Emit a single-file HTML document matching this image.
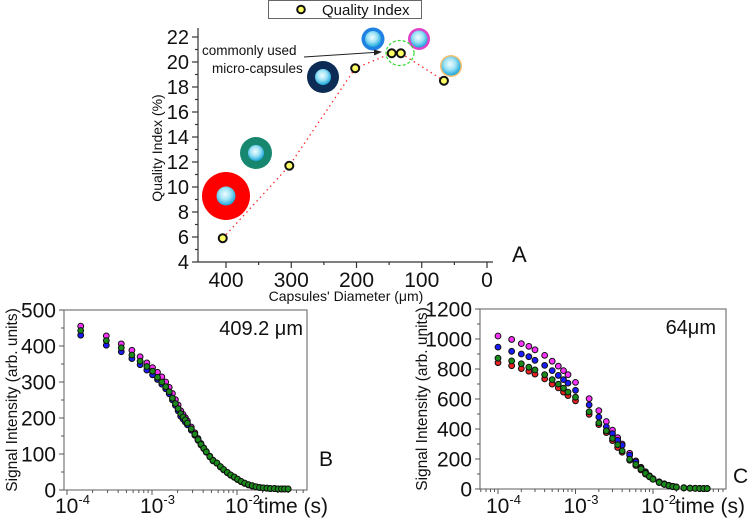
<!DOCTYPE html>
<html><head><meta charset="utf-8"><style>
html,body{margin:0;padding:0;background:#fff;}
svg{display:block;font-family:"Liberation Sans",Arial,sans-serif;}
</style></head><body>
<svg id="fig" width="749" height="523" viewBox="0 0 749 523" xmlns="http://www.w3.org/2000/svg">
<defs>
<radialGradient id="core" cx="45%" cy="40%" r="60%">
<stop offset="0" stop-color="#f2fdff"/><stop offset="0.5" stop-color="#9fe3f5"/><stop offset="1" stop-color="#1aa6dc"/>
</radialGradient>
<marker id="arrowhead" markerWidth="8" markerHeight="6" refX="7" refY="3" orient="auto"><path d="M0,0 L8,3 L0,6 z" fill="#222"/></marker>
</defs>
<g id="panelA"></g>
<g id="panelB"></g>
<g id="panelC"></g>
</svg>
<script>
// ---------- Panel A data ----------
const diamA = [405, 303, 202, 146, 132, 66];
const qualityA = [5.9, 11.7, 19.5, 20.7, 20.7, 18.5];
const yTicksA = [4,6,8,10,12,14,16,18,20,22];
const xTicksA = [400,300,200,100,0];

// ---------- Panel B data (409.2 um) ----------
const timeB = [1.45e-4,2.9e-4,4.35e-4,5.8e-4,7.25e-4,8.7e-4,1.015e-3,1.16e-3,1.305e-3,1.45e-3,1.595e-3,1.74e-3,1.885e-3,2.03e-3,2.175e-3,2.32e-3,2.465e-3,2.61e-3,2.9e-3,3.19e-3,3.48e-3,3.77e-3,4.06e-3,4.35e-3,4.785e-3,5.22e-3,5.8e-3,6.38e-3,6.96e-3,7.685e-3,8.41e-3,9.28e-3,1.015e-2,1.1165e-2,1.2325e-2,1.363e-2,1.508e-2,1.6675e-2,1.8415e-2,2.03e-2,2.2475e-2,2.465e-2,2.755e-2,3.045e-2,3.335e-2,3.625e-2,3.9875e-2];
const greenB = [443,415,395,375,358,343,330,313,300,287,273,255,240,226,212,203,195,186,170,155,140,127,116,106,93,82,75,65,57,49,42,36,30,24,19,15,12,9,7,6,5,4,4,3,3,3,3];
const magentaB = [455,428,406,388,370,353,340,327,314,300,285,268,251,236,220,210,201,192,175,159,143,129,117,107,94,83,75,65,57,49,42,36,30,24,19,15,12,9,7,6,5,4,4,3,3,3,3];
const blueB = [430,402,384,365,348,333,320,307,294,281,267,250,235,220,205,197,189,181,166,152,138,125,115,105,92,81,74,64,56,48,41,35,29,23,18,14,11,9,7,6,5,4,4,3,3,3,3];
const yTicksB = [0,100,200,300,400,500];

// ---------- Panel C data (64 um) ----------
const timeC = [1e-4,1.5e-4,2e-4,2.5e-4,3e-4,4e-4,5e-4,6e-4,7e-4,8e-4,1e-3,1.5e-3,2e-3,2.5e-3,3e-3,3.5e-3,4e-3,5e-3,6e-3,7e-3,8e-3,9e-3,1e-2,1.2e-2,1.4e-2,1.6e-2,1.8e-2,2e-2,2.5e-2,3e-2,3.5e-2,4e-2,4.5e-2,5e-2];
const magentaC = [1020,997,969,951,928,891,852,819,789,762,711,602,522,450,392,342,300,238,187,145,115,88,69,48,35,25,18,14,9,6,5,4,3,3];
const blueC = [946,918,900,882,858,824,789,757,729,706,658,561,480,415,369,325,291,226,180,140,110,84,66,46,33,24,17,13,8,6,5,4,3,3];
const redC = [842,822,803,785,766,734,699,674,646,623,588,498,429,376,323,277,245,192,157,127,99,81,65,43,30,21,15,11,7,5,4,3,3,3];
const greenC = [872,854,835,812,794,762,729,699,672,646,612,515,441,388,337,295,254,198,164,134,104,83,65,44,31,22,16,12,8,5,4,3,3,3];
const yTicksC = [0,200,400,600,800,1000,1200];
const xDecades = [-4,-3,-2];

const NS = "http://www.w3.org/2000/svg";
function mk(parent, tag, attrs, text){
  const e = document.createElementNS(NS, tag);
  for (const k in attrs) e.setAttribute(k, attrs[k]);
  if (text !== undefined) e.textContent = text;
  parent.appendChild(e);
  return e;
}

// ================= Panel A =================
(function(){
  const g = document.getElementById('panelA');
  const xA = v => 226 + (400 - v) * 0.6525;
  const yA = v => 262 - (v - 4) * 12.5;
  // legend
  const lg = mk(g,'g',{});
  
  
  mk(lg,'rect',{x:268.5,y:0.5,width:153,height:18,fill:'#fff',stroke:'#666','stroke-width':1});
  mk(lg,'circle',{cx:301,cy:9.5,r:3.8,fill:'#ffff66',stroke:'#111','stroke-width':2});
  mk(lg,'text',{x:322,y:15,'font-size':15,fill:'#111'},'Quality Index');
  // axes
  const ax = mk(g,'g',{stroke:'#333','stroke-width':1.2,fill:'none'});
  
  
  mk(ax,'line',{x1:198,y1:28,x2:198,y2:262});
  mk(ax,'line',{x1:198,y1:262,x2:493,y2:262});
  for (let v=4; v<=22; v+=1){
    const major = v%2===0;
    mk(ax,'line',{x1:198,y1:yA(v),x2:198-(major?6:3),y2:yA(v)});
  }
  for (let v=0; v<=440; v+=50){
    const major = v%100===0;
    mk(ax,'line',{x1:xA(v),y1:262,x2:xA(v),y2:262+(major?6:3)});
  }
  yTicksA.forEach(v=>{
    const t = mk(g,'text',{x:189,y:yA(v)+7,'font-size':20,'text-anchor':'end',fill:'#111'},String(v));
    
    
  });
  xTicksA.forEach(v=>{
    const t = mk(g,'text',{x:xA(v),y:287,'font-size':21,'text-anchor':'middle',fill:'#111'},String(v));
    
    
  });
  const yl = mk(g,'text',{x:0,y:0,'font-size':14,'text-anchor':'middle',fill:'#111',transform:'translate(162,148) rotate(-90)'},'Quality Index (%)');
  
  
  const xl = mk(g,'text',{x:346,y:301,'font-size':14,'text-anchor':'middle',fill:'#111'},"Capsules' Diameter (μm)");
  
  
  const la = mk(g,'text',{x:512,y:262,'font-size':22,fill:'#111'},'A');
  
  
  // capsule icons
  const caps = [
    {cx:226,cy:196,R:24,r:9.5,c:'#ff0000',n:'capsule-icon-red'},
    {cx:256,cy:153,R:16,r:8,c:'#17876f',n:'capsule-icon-teal'},
    {cx:323,cy:77,R:16,r:8,c:'#0c2c55',n:'capsule-icon-navy'},
    {cx:373,cy:39,R:11.5,r:8,c:'#1f82e3',n:'capsule-icon-blue'},
    {cx:419,cy:39,R:11,r:8.5,c:'#e040c8',n:'capsule-icon-magenta'},
    {cx:451,cy:66,R:11,r:9.5,c:'#f6be6c',n:'capsule-icon-orange'}
  ];
  caps.forEach(o=>{
    const cg = mk(g,'g',{});
    
    
    mk(cg,'circle',{cx:o.cx,cy:o.cy,r:o.R,fill:o.c});
    mk(cg,'circle',{cx:o.cx,cy:o.cy,r:o.r,fill:'url(#core)'});
  });
  // dotted connecting line
  const pts = diamA.map((d,i)=>xA(d)+','+yA(qualityA[i])).join(' ');
  const pl = mk(g,'polyline',{points:pts,fill:'none',stroke:'#ff2a2a','stroke-width':1.3,'stroke-dasharray':'1.5 3.5'});
  
  
  // green dashed highlight
  const hc = mk(g,'ellipse',{cx:400,cy:53,rx:14,ry:12.5,fill:'none',stroke:'#33dd33','stroke-width':1.2,'stroke-dasharray':'3 2'});
  
  
  diamA.forEach((d,i)=>{
    const c = mk(g,'circle',{cx:xA(d),cy:yA(qualityA[i]),r:4,fill:'#ffff66',stroke:'#111','stroke-width':2});
    
    
  });
  // annotation
  const an = mk(g,'g',{});
  
  
  mk(an,'text',{x:202,y:55,'font-size':13.5,fill:'#111'},'commonly used');
  mk(an,'text',{x:212,y:73,'font-size':13.5,fill:'#111'},'micro-capsules');
  mk(an,'line',{x1:304,y1:57,x2:381,y2:52,stroke:'#222','stroke-width':1,'marker-end':'url(#arrowhead)'});
})();

// ================= Log panels =================
function logPanel(gid, box, yMax, yTicks, times, seriesList, label, sizeLabel, letter){
  const g = document.getElementById(gid);
  const {L,T,R,B,x4,dec} = box;
  const xS = t => x4 + (Math.log10(t) + 4) * dec;
  const yS = v => B - v * (B - T) / yMax;
  const fr = mk(g,'rect',{x:L,y:T,width:R-L,height:B-T,fill:'none',stroke:'#777','stroke-width':1.2});
  
  
  const tk = mk(g,'g',{stroke:'#555','stroke-width':1});
  
  
  const step = yTicks[1]-yTicks[0];
  for (let v=0; v<=yMax+1e-9; v+=step/2){
    const major = Math.abs(v/step - Math.round(v/step))<1e-6;
    mk(tk,'line',{x1:L,y1:yS(v),x2:L-(major?5:3),y2:yS(v)});
  }
  for (let d=-5; d<=-1; d++){
    for (let m=1; m<10; m++){
      const x = xS(m*Math.pow(10,d));
      if (x < L-0.5 || x > R+0.5) continue;
      mk(tk,'line',{x1:x,y1:B,x2:x,y2:B+(m===1?5:3)});
    }
  }
  yTicks.forEach(v=>{
    const t = mk(g,'text',{x:L-8,y:yS(v)+7.5,'font-size':21,'text-anchor':'end',fill:'#111'},String(v));
    
    
  });
  xDecades.forEach(d=>{
    const t = mk(g,'text',{x:xS(Math.pow(10,d))-12,y:513,'font-size':21,fill:'#111'});
    
    
    mk(t,'tspan',{},'10');
    mk(t,'tspan',{dy:-9,'font-size':13},String(d));
  });
  const xt = mk(g,'text',{x:box.timeX,y:513,'font-size':21,fill:'#111'},'time (s)');
  
  
  const yt = mk(g,'text',{x:0,y:0,'font-size':15.5,'text-anchor':'middle',fill:'#111',transform:`translate(${box.ylx},${(T+B)/2}) rotate(-90)`},label);
  
  
  const sl = mk(g,'text',{x:box.slx,y:T+25,'font-size':20,'text-anchor':'end',fill:'#111'},sizeLabel);
  
  
  const pl = mk(g,'text',{x:box.lx,y:box.ly,'font-size':21,fill:'#111'},letter);
  
  
  seriesList.forEach(s=>{
    const sg = mk(g,'g',{});
    
    
    s.vals.forEach((v,i)=>{
      const c = mk(sg,'circle',{cx:xS(times[i]),cy:yS(v),r:2.9,fill:s.color,stroke:'#111','stroke-width':1});
      
      
    });
  });
}

logPanel('panelB',{L:64,T:310,R:307,B:490,x4:67,dec:85,timeX:258,ylx:17,slx:303,lx:319,ly:466},
  500, yTicksB, timeB,
  [{name:'series-magenta',vals:magentaB,color:'#ff33ff'},
   {name:'series-blue',vals:blueB,color:'#1a1aff'},
   {name:'series-green',vals:greenB,color:'#1a8a1a'}],
  'Signal Intensity (arb. units)','409.2 μm','B');

logPanel('panelC',{L:480,T:309,R:726,B:489,x4:498,dec:77.5,timeX:675,ylx:427,slx:716,lx:733,ly:483},
  1200, yTicksC, timeC,
  [{name:'series-magenta',vals:magentaC,color:'#ff33ff'},
   {name:'series-blue',vals:blueC,color:'#1a1aff'},
   {name:'series-red',vals:redC,color:'#ee2222'},
   {name:'series-green',vals:greenC,color:'#1a8a1a'}],
  'Signal Intensity (arb. units)','64μm','C');
</script>
</body></html>
